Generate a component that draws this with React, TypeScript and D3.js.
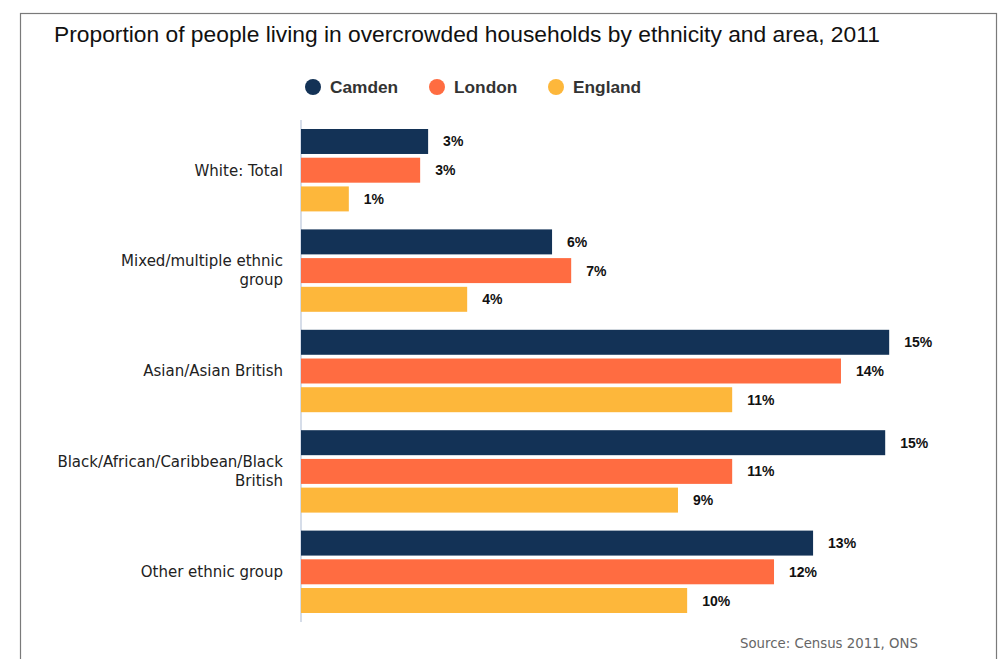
import React from "react";
import * as d3 from "d3";

const categories = [
  ["White: Total"],
  ["Mixed/multiple ethnic", "group"],
  ["Asian/Asian British"],
  ["Black/African/Caribbean/Black", "British"],
  ["Other ethnic group"],
];
const seriesNames = ["Camden", "London", "England"];
const camden = [3.19, 6.3, 14.76, 14.66, 12.85];
const london = [2.99, 6.78, 13.55, 10.82, 11.87];
const england = [1.2, 4.17, 10.82, 9.46, 9.69];
const colors = ["#133256", "#FF6C41", "#FDB73B"];
const title = "Proportion of people living in overcrowded households by ethnicity and area, 2011";
const source = "Source: Census 2011, ONS";

export default function App() {
  const W = 1000, H = 659;
  const series = [camden, london, england];
  const x = d3.scaleLinear().domain([0, 15]).range([301, 898.75]);
  const y0 = d3.scaleBand<number>().domain(d3.range(categories.length)).range([120, 622]).paddingInner(0).paddingOuter(0);
  const y1 = d3.scaleBand<number>().domain(d3.range(seriesNames.length)).range([9, y0.bandwidth() - 9]).paddingInner(0.13).paddingOuter(0);
  const legendX = [313, 437, 556];
  const lab = "'DejaVu Sans', 'Lucida Grande', sans-serif";
  const arial = "'Liberation Sans', Arial, Helvetica, sans-serif";
  return (
    <div style={{ position: "absolute", left: 0, top: 0 }}>
      <svg width={W} height={H} style={{ display: "block" }}>
        <rect x={0} y={0} width={W} height={H} fill="#fff" />
        <rect x={20.5} y={13.5} width={976} height={700} fill="#fff" stroke="#7a7a7a" strokeWidth={1.2} />
        <text x={54} y={42} fontFamily={arial} fontSize={22.8} fill="#111">{title}</text>
        {seriesNames.map((s, i) => (
          <g key={s}>
            <circle cx={legendX[i]} cy={87} r={8} fill={colors[i]} />
            <text x={legendX[i] + 17} y={93} fontFamily={arial} fontSize={17.3} fontWeight="bold" fill="#333">{s}</text>
          </g>
        ))}
        <line x1={301} x2={301} y1={120} y2={622} stroke="#d6dde9" strokeWidth={2} />
        {categories.map((c, ci) => {
          const gy = y0(ci)!;
          const cy = gy + y0.bandwidth() / 2;
          return (
            <g key={ci}>
              {c.map((line, li) => (
                <text key={li} x={283} y={cy + (li - (c.length - 1) / 2) * 19 + 5.3} textAnchor="end" fontFamily={lab} fontSize={15} fill="#222">{line}</text>
              ))}
              {series.map((vals, si) => {
                const by = gy + y1(si)!;
                const bh = y1.bandwidth();
                return (
                  <g key={si}>
                    <rect x={x(0)} y={by} width={x(vals[ci]) - x(0)} height={bh} fill={colors[si]} />
                    <text x={x(vals[ci]) + 15} y={by + bh / 2 + 5} fontFamily={arial} fontSize={14} fontWeight="bold" fill="#111">{Math.round(vals[ci]) + "%"}</text>
                  </g>
                );
              })}
            </g>
          );
        })}
        <text x={740} y={648} fontFamily={lab} fontSize={13.3} fill="#666">{source}</text>
      </svg>
    </div>
  );
}
